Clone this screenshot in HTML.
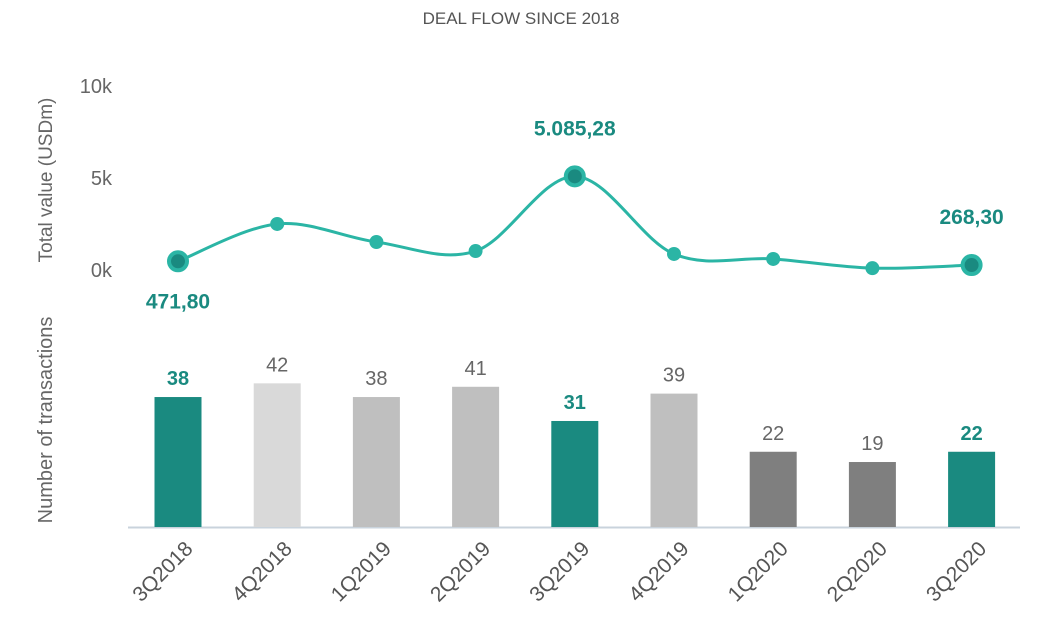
<!DOCTYPE html>
<html><head><meta charset="utf-8"><style>
html,body{margin:0;padding:0;background:#fff;}
svg{display:block;font-family:"Liberation Sans","DejaVu Sans",sans-serif;}
</style></head><body>
<svg id="chart" width="1042" height="622" viewBox="0 0 1042 622">
<text x="521" y="24" text-anchor="middle" font-size="17" fill="#555">DEAL FLOW SINCE 2018</text>
<text transform="translate(52,180) rotate(-90)" text-anchor="middle" font-size="19" fill="#666">Total value (USDm)</text>
<text transform="translate(52,420) rotate(-90)" text-anchor="middle" font-size="20" fill="#666">Number of transactions</text>
<line x1="128" y1="527.5" x2="1020" y2="527.5" stroke="#c9d3dc" stroke-width="2"/>
<g id="ticks"></g><g id="bars"></g><g id="line"></g><g id="xlabels"></g>
</svg>
<script>
const categories=["3Q2018","4Q2018","1Q2019","2Q2019","3Q2019","4Q2019","1Q2020","2Q2020","3Q2020"];
const counts=[38,42,38,41,31,39,22,19,22];
const values=[471.8,2500,1520,1030,5085.28,870,600,100,268.3];
const yTicks=[0,5000,10000];
const yTickLabels=["0k","5k","10k"];
const barColors=["#1a8a80","#d9d9d9","#bfbfbf","#bfbfbf","#1a8a80","#bfbfbf","#7f7f7f","#7f7f7f","#1a8a80"];
const highlight=[true,false,false,false,true,false,false,false,true];
const valueLabels=["471,80","","","","5.085,28","","","","268,30"];

const NS="http://www.w3.org/2000/svg";
function mk(t,a,p){const e=document.createElementNS(NS,t);for(const k in a)e.setAttribute(k,a[k]);p.appendChild(e);return e;}
const xc=i=>178+i*99.2;
const yb=v=>527-v*3.42;
const yl=v=>270-v*0.01842;
const gT=document.getElementById('ticks'),gB=document.getElementById('bars'),gL=document.getElementById('line'),gX=document.getElementById('xlabels');
yTicks.forEach((t,i)=>{const e=mk('text',{x:112,y:yl(t)+7,'text-anchor':'end','font-size':20,fill:'#666'},gT);e.textContent=yTickLabels[i];

});
counts.forEach((c,i)=>{
 const r=mk('rect',{x:xc(i)-23.5,y:yb(c),width:47,height:527-yb(c),fill:barColors[i]},gB);
 
 
 const t=mk('text',{x:xc(i),y:yb(c)-12,'text-anchor':'middle','font-size':20,fill:highlight[i]?'#1a8a80':'#666','font-weight':highlight[i]?'bold':'normal'},gB);
 t.textContent=c;
 
 
 const xl=mk('text',{'text-anchor':'end','font-size':21,fill:'#555',transform:`translate(${xc(i)+16},${550}) rotate(-45)`},gX);
 xl.textContent=categories[i];
 
 
});
const pts=values.map((v,i)=>[xc(i),yl(v)]);
let d=`M${pts[0][0]},${pts[0][1]}`;
for(let i=0;i<pts.length-1;i++){const p0=pts[Math.max(0,i-1)],p1=pts[i],p2=pts[i+1],p3=pts[Math.min(pts.length-1,i+2)];const k=1/6;
d+=` C${p1[0]+(p2[0]-p0[0])*k},${p1[1]+(p2[1]-p0[1])*k} ${p2[0]-(p3[0]-p1[0])*k},${p2[1]-(p3[1]-p1[1])*k} ${p2[0]},${p2[1]}`;}
const path=mk('path',{d:d,fill:'none',stroke:'#2bb5a5','stroke-width':3},gL);


pts.forEach((p,i)=>{
 if(highlight[i]){
  const c=mk('circle',{cx:p[0],cy:p[1],r:9,fill:'#1a8a80',stroke:'#2bb5a5','stroke-width':4},gL);
  
  
  const ly=i===0?p[1]+47:p[1]-41;
  const t=mk('text',{x:p[0],y:ly,'text-anchor':'middle','font-size':21,'font-weight':'bold',fill:'#1a8a80'},gL);
  t.textContent=valueLabels[i];
  
  
 }else{
  const c=mk('circle',{cx:p[0],cy:p[1],r:7,fill:'#2bb5a5'},gL);
  
  
 }
});
</script>
</body></html>
